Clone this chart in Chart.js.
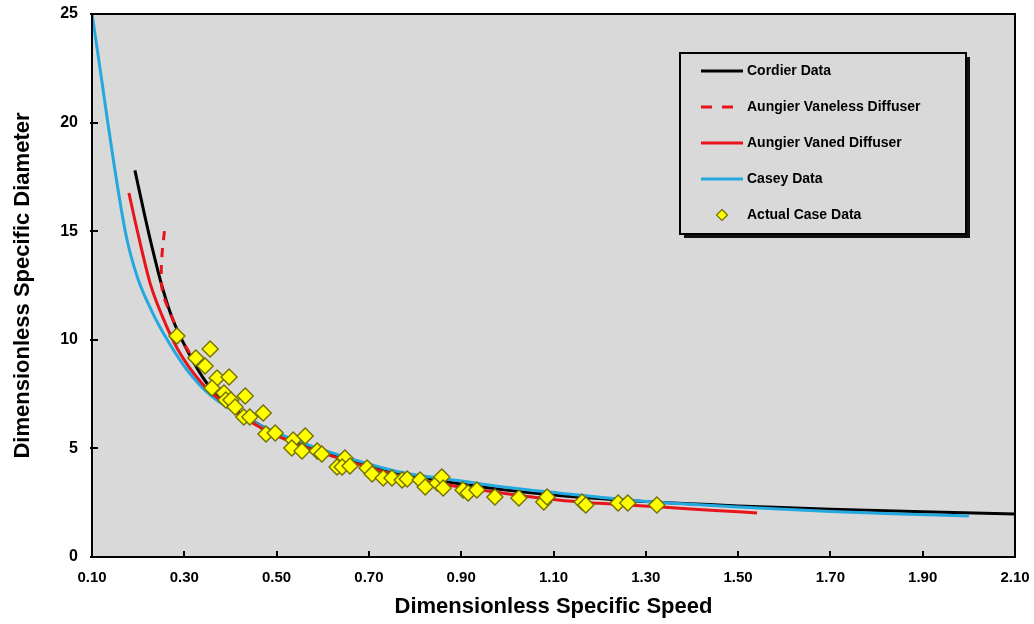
<!DOCTYPE html>
<html>
<head>
<meta charset="utf-8">
<script src="https://cdn.jsdelivr.net/npm/chart.js@4"></script>
<style>
  html, body { margin: 0; padding: 0; background: #fff; }
</style>
</head>
<body>
<canvas id="myChart" width="1034" height="624"></canvas>
<script>
// tick labels
const xTicks = [0.1, 0.3, 0.5, 0.7, 0.9, 1.1, 1.3, 1.5, 1.7, 1.9, 2.1];
const yTicks = [0, 5, 10, 15, 20, 25];

// Cordier Data
const cordierX = [0.193, 0.215, 0.232, 0.250, 0.273, 0.306, 0.349, 0.400, 0.470, 0.550, 0.650, 0.770, 0.900, 1.100, 1.300, 1.500, 1.700, 1.900, 2.100];
const cordierY = [17.8, 15.65, 14.1, 12.6, 11.05, 9.53, 8.0, 6.95, 6.0, 5.25, 4.55, 3.85, 3.36, 2.85, 2.55, 2.35, 2.2, 2.08, 1.98];

// Aungier Vaneless Diffuser
const vanelessX = [0.257, 0.252, 0.250, 0.253, 0.262, 0.276, 0.295, 0.320];
const vanelessY = [15.0, 14.0, 13.0, 12.2, 11.6, 10.9, 10.0, 9.1];

// Aungier Vaned Diffuser
const vanedX = [0.180, 0.200, 0.226, 0.252, 0.286, 0.338, 0.400, 0.470, 0.550, 0.650, 0.770, 0.900, 1.110, 1.200, 1.350, 1.450, 1.541];
const vanedY = [16.76, 14.85, 12.6, 11.1, 9.55, 8.0, 6.85, 5.9, 5.15, 4.45, 3.72, 3.22, 2.62, 2.47, 2.28, 2.14, 2.03];

// Casey Data
const caseyX = [0.100, 0.172, 0.198, 0.230, 0.263, 0.306, 0.356, 0.414, 0.471, 0.550, 0.650, 0.770, 0.900, 1.000, 1.110, 1.250, 1.350, 1.500, 1.700, 1.850, 2.000];
const caseyY = [25.0, 15.0, 12.9, 11.3, 10.0, 8.61, 7.46, 6.63, 5.99, 5.3, 4.6, 3.9, 3.5, 3.2, 2.95, 2.65, 2.49, 2.3, 2.1, 1.98, 1.89];

// Actual Case Data
const caseX = [0.284, 0.356, 0.325, 0.345, 0.371, 0.397, 0.360, 0.386, 0.390, 0.401, 0.410, 0.432, 0.429, 0.442, 0.471,
  0.477, 0.497, 0.536, 0.562, 0.533, 0.555, 0.588, 0.598, 0.631, 0.648, 0.642, 0.659, 0.696, 0.707, 0.731,
  0.750, 0.772, 0.783, 0.811, 0.822, 0.848, 0.858, 0.861, 0.904, 0.915, 0.934, 0.973, 1.025, 1.079, 1.086,
  1.162, 1.170, 1.240, 1.261, 1.324];
const caseY = [10.17, 9.58, 9.16, 8.79, 8.24, 8.29, 7.78, 7.55, 7.23, 7.23, 6.91, 7.41, 6.45, 6.45, 6.63,
  5.66, 5.71, 5.39, 5.57, 5.02, 4.88, 4.88, 4.74, 4.14, 4.56, 4.14, 4.19, 4.10, 3.82, 3.64,
  3.64, 3.55, 3.59, 3.55, 3.22, 3.41, 3.68, 3.18, 3.08, 2.95, 3.08, 2.76, 2.72, 2.53, 2.76,
  2.53, 2.39, 2.49, 2.49, 2.39];

const toPoints = (xs, ys) => xs.map((x, i) => ({ x: x, y: ys[i] }));

const FONT = "'Liberation Sans', Arial, sans-serif";

const plotFrame = {
  id: 'plotFrame',
  beforeDraw(chart) {
    const { ctx, chartArea: a } = chart;
    ctx.save();
    ctx.fillStyle = '#d9d9d9';
    ctx.fillRect(a.left, a.top, a.right - a.left, a.bottom - a.top);
    ctx.restore();
  },
  afterDatasetsDraw(chart) {
    const { ctx, chartArea: a, scales } = chart;
    ctx.save();
    ctx.strokeStyle = '#000';
    ctx.lineWidth = 2;
    ctx.strokeRect(a.left, a.top, a.right - a.left, a.bottom - a.top);
    ctx.beginPath();
    scales.x.ticks.forEach(t => {
      const px = Math.round(scales.x.getPixelForValue(t.value));
      ctx.moveTo(px, a.bottom);
      ctx.lineTo(px, a.bottom - 6);
    });
    scales.y.ticks.forEach(t => {
      const py = Math.round(scales.y.getPixelForValue(t.value));
      ctx.moveTo(a.left - 2, py);
      ctx.lineTo(a.left + 6, py);
    });
    ctx.stroke();
    ctx.restore();
  }
};

const boxLegend = {
  id: 'boxLegend',
  afterDraw(chart) {
    const { ctx } = chart;
    const x0 = 680, y0 = 53, w = 286, h = 181;
    ctx.save();
    ctx.fillStyle = '#111';
    ctx.fillRect(x0 + 4, y0 + 4, w, h);
    ctx.fillStyle = '#d9d9d9';
    ctx.fillRect(x0, y0, w, h);
    ctx.strokeStyle = '#000';
    ctx.lineWidth = 2;
    ctx.strokeRect(x0, y0, w, h);
    ctx.font = 'bold 14px ' + FONT;
    ctx.textBaseline = 'middle';
    ctx.textAlign = 'left';
    chart.data.datasets.forEach((ds, i) => {
      const y = y0 + 18 + i * 36;
      if (ds.showLine) {
        ctx.beginPath();
        ctx.strokeStyle = ds.borderColor;
        ctx.lineWidth = 3;
        ctx.setLineDash(ds.borderDash ? [11, 10] : []);
        ctx.moveTo(701, y);
        ctx.lineTo(743, y);
        ctx.stroke();
        ctx.setLineDash([]);
      } else {
        ctx.beginPath();
        ctx.moveTo(722, y - 5.5);
        ctx.lineTo(727.5, y);
        ctx.lineTo(722, y + 5.5);
        ctx.lineTo(716.5, y);
        ctx.closePath();
        ctx.fillStyle = ds.backgroundColor;
        ctx.fill();
        ctx.strokeStyle = ds.borderColor;
        ctx.lineWidth = 1.2;
        ctx.stroke();
      }
      ctx.fillStyle = '#000';
      ctx.fillText(ds.label, 747, y);
    });
    ctx.restore();
  }
};

const lineBase = { showLine: true, pointRadius: 0, borderWidth: 3, fill: false, cubicInterpolationMode: 'monotone' };

const config = {
  type: 'scatter',
  data: {
    datasets: [
      { ...lineBase, label: 'Cordier Data', data: toPoints(cordierX, cordierY), borderColor: '#000000', order: 4 },
      { ...lineBase, label: 'Aungier Vaneless Diffuser', data: toPoints(vanelessX, vanelessY), borderColor: '#e8141b',
        borderDash: [9, 8], cubicInterpolationMode: 'default', tension: 0.35, order: 1 },
      { ...lineBase, label: 'Aungier Vaned Diffuser', data: toPoints(vanedX, vanedY), borderColor: '#e8141b', order: 2 },
      { ...lineBase, label: 'Casey Data', data: toPoints(caseyX, caseyY), borderColor: '#23a8df', order: 3 },
      { label: 'Actual Case Data', data: toPoints(caseX, caseY), showLine: false, pointStyle: 'rectRot',
        pointRadius: 8, borderWidth: 1.4, backgroundColor: '#ffff00', borderColor: '#747000', order: 0 }
    ]
  },
  options: {
    responsive: false,
    animation: false,
    layout: { padding: { top: 14, right: 19, left: 0, bottom: 0 } },
    plugins: {
      legend: { display: false },
      tooltip: { enabled: false }
    },
    scales: {
      x: {
        type: 'linear',
        min: 0.1,
        max: 2.1,
        afterBuildTicks: s => { s.ticks = xTicks.map(v => ({ value: v })); },
        afterFit: s => { s.height = 67; s.paddingLeft = 0; s.paddingRight = 0; },
        ticks: {
          color: '#000',
          padding: 12,
          maxRotation: 0,
          autoSkip: false,
          font: { family: FONT, size: 15, weight: 'bold' },
          callback: v => Number(v).toFixed(2)
        },
        grid: { display: false, drawTicks: false },
        border: { display: false },
        title: {
          display: true,
          text: 'Dimensionless Specific Speed',
          color: '#000',
          font: { family: FONT, size: 22, weight: 'bold' },
          padding: { top: 0, bottom: 4 }
        }
      },
      y: {
        type: 'linear',
        min: 0,
        max: 25,
        afterBuildTicks: s => { s.ticks = yTicks.map(v => ({ value: v })); },
        afterFit: s => { s.width = 92; s.paddingTop = 0; s.paddingBottom = 0; },
        ticks: {
          color: '#000',
          padding: 14,
          font: { family: FONT, size: 16, weight: 'bold' }
        },
        grid: { display: false, drawTicks: false },
        border: { display: false },
        title: {
          display: true,
          text: 'Dimensionless Specific Diameter',
          color: '#000',
          font: { family: FONT, size: 22, weight: 'bold' },
          padding: { top: 10, bottom: 0 }
        }
      }
    }
  },
  plugins: [plotFrame, boxLegend]
};

new Chart(document.querySelector('#myChart'), config);
</script>
</body>
</html>
